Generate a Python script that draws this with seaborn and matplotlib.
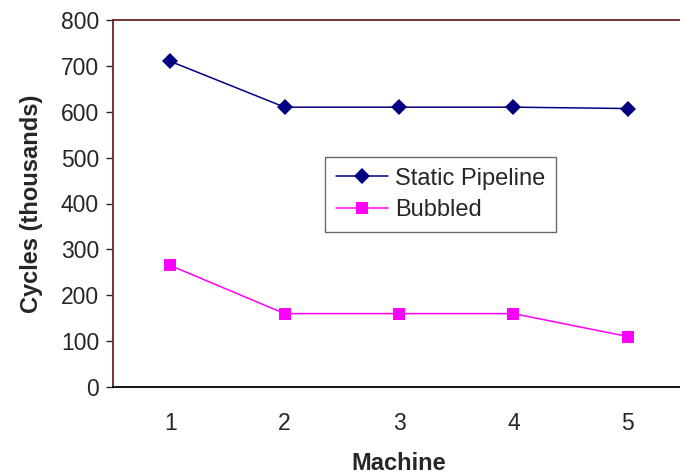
import pandas as pd
import matplotlib
matplotlib.use("Agg")
import matplotlib.pyplot as plt
import seaborn as sns
from matplotlib.ticker import FixedLocator

machines = [1, 2, 3, 4, 5]
static_pipeline = [710, 610, 610, 610, 607]
bubbled = [265, 160, 160, 160, 110]
series_names = ["Static Pipeline", "Bubbled"]

sns.set_style("white")
plt.rcParams['font.family'] = ['Liberation Sans', 'DejaVu Sans']

df = pd.DataFrame({
    "Machine": machines * 2,
    "Cycles": static_pipeline + bubbled,
    "Series": [series_names[0]] * 5 + [series_names[1]] * 5,
})

fig = plt.figure(figsize=(6.8, 4.76), dpi=100)
ax = fig.add_axes([113 / 680, 1 - 387 / 476, (685 - 113) / 680, (387 - 20) / 476])

sns.lineplot(data=df, x="Machine", y="Cycles", hue="Series", style="Series",
             palette={"Static Pipeline": "#000080", "Bubbled": "#FF00FF"},
             markers={"Static Pipeline": "D", "Bubbled": "s"},
             dashes=False, markersize=8.5, linewidth=1.1, markeredgewidth=0,
             ax=ax)

ax.set_xlim(0.5, 5.5)
ax.set_ylim(0, 800)
ax.set_yticks(range(0, 801, 100))
ax.set_xticks(machines)
ax.xaxis.set_minor_locator(FixedLocator([0.5, 1.5, 2.5, 3.5, 4.5, 5.5]))
ax.tick_params(axis="x", which="major", length=0, labelsize=16.5, pad=18)
ax.tick_params(axis="x", which="minor", length=6, width=1, color="#333333", direction="out")
ax.tick_params(axis="y", length=5, width=1, labelsize=16.5, direction="out", left=True, pad=5)

ax.set_xlabel("Machine", fontsize=17, fontweight="bold", labelpad=12)
ax.set_ylabel("Cycles (thousands)", fontsize=17, fontweight="bold", labelpad=13)

for side in ["top", "left"]:
    ax.spines[side].set_color("#6a2424")
    ax.spines[side].set_linewidth(1.3)
ax.spines["bottom"].set_color("black")
ax.spines["bottom"].set_linewidth(1.3)
ax.spines["right"].set_visible(False)

leg = ax.legend(title=None, loc="upper left", bbox_to_anchor=((325 - 113) / 572, (387 - 157) / 367),
                fontsize=17, frameon=True, fancybox=False, edgecolor="#444444",
                handlelength=2.2, handletextpad=0.3, borderpad=0.45, borderaxespad=0,
                labelspacing=0.4)
leg.get_frame().set_linewidth(1.0)

fig.savefig("out.png", dpi=100)
